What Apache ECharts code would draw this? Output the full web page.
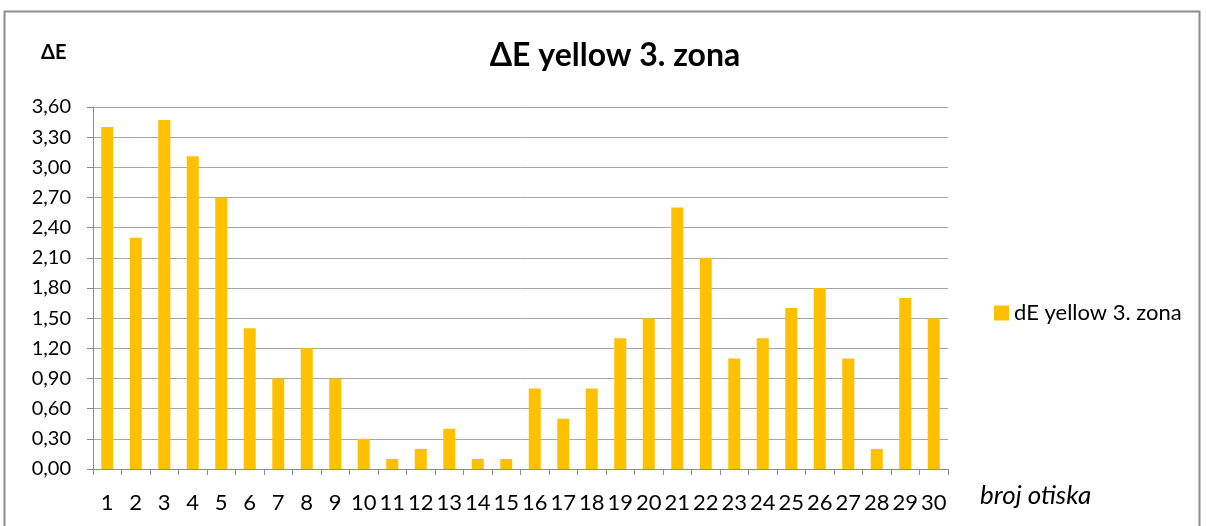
<!DOCTYPE html>
<html>
<head>
<meta charset="utf-8">
<script src="https://cdn.jsdelivr.net/npm/echarts@6/dist/echarts.min.js"></script>
<style>
  html, body { margin: 0; padding: 0; background: #fff; }
  #chart { width: 1206px; height: 526px; }
</style>
</head>
<body>
<div id="chart"></div>
<script>
// Print numbers 1..30
const categories = ['1','2','3','4','5','6','7','8','9','10','11','12','13','14','15',
  '16','17','18','19','20','21','22','23','24','25','26','27','28','29','30'];
// ΔE values for yellow, zone 3
const deYellow = [3.40, 2.30, 3.47, 3.11, 2.70, 1.40, 0.90, 1.20, 0.90, 0.30,
  0.10, 0.20, 0.40, 0.10, 0.10, 0.80, 0.50, 0.80, 1.30, 1.50,
  2.60, 2.10, 1.10, 1.30, 1.60, 1.80, 1.10, 0.20, 1.70, 1.50];
const yMin = 0, yMax = 3.6, yStep = 0.3;

const FONT = 'Lato, "Open Sans", sans-serif';
const chart = echarts.init(document.getElementById('chart'));
chart.setOption({
  animation: false,
  title: {
    text: 'ΔE yellow 3. zona',
    left: 610, top: 35, textAlign: 'center',
    textStyle: { fontFamily: FONT, fontWeight: 'bold', fontSize: 32, color: '#000' }
  },
  graphic: [
    { type: 'rect', shape: { x: 4.5, y: 11.5, width: 1195, height: 530 },
      style: { fill: 'none', stroke: '#8c8c8c', lineWidth: 2 }, silent: true },
    { type: 'text', left: 41, top: 43,
      style: { text: 'ΔE', font: 'bold 20px ' + FONT, fill: '#000' } },
    { type: 'text', left: 980, top: 483,
      style: { text: 'broj otiska', font: 'italic 26px ' + FONT, fill: '#000' } }
  ],
  legend: {
    left: 989, top: 297, orient: 'vertical',
    itemWidth: 15, itemHeight: 15, itemGap: 6,
    icon: 'rect',
    textStyle: { fontFamily: FONT, fontSize: 22, color: '#000' },
    data: ['dE yellow 3. zona']
  },
  grid: { left: 93, right: 258, top: 107, bottom: 57, containLabel: false },
  xAxis: {
    type: 'category', data: categories,
    axisLine: { lineStyle: { color: '#8c8c8c', width: 1 } },
    axisTick: { show: true, length: 6, lineStyle: { color: '#8c8c8c' } },
    axisLabel: { fontFamily: FONT, fontSize: 22, color: '#000', margin: 23, interval: 0 }
  },
  yAxis: {
    type: 'value', min: yMin, max: yMax, interval: yStep,
    axisLine: { show: true, lineStyle: { color: '#8c8c8c' } },
    axisTick: { show: true, length: 6, lineStyle: { color: '#8c8c8c' } },
    splitLine: { lineStyle: { color: '#a6a6a6', width: 1 } },
    axisLabel: {
      fontFamily: FONT, fontSize: 20, color: '#000', margin: 22,
      formatter: v => v.toFixed(2).replace('.', ',')
    }
  },
  series: [{
    name: 'dE yellow 3. zona', type: 'bar', data: deYellow,
    barWidth: 12,
    itemStyle: { color: '#FFC000' }
  }]
});
</script>
</body>
</html>
